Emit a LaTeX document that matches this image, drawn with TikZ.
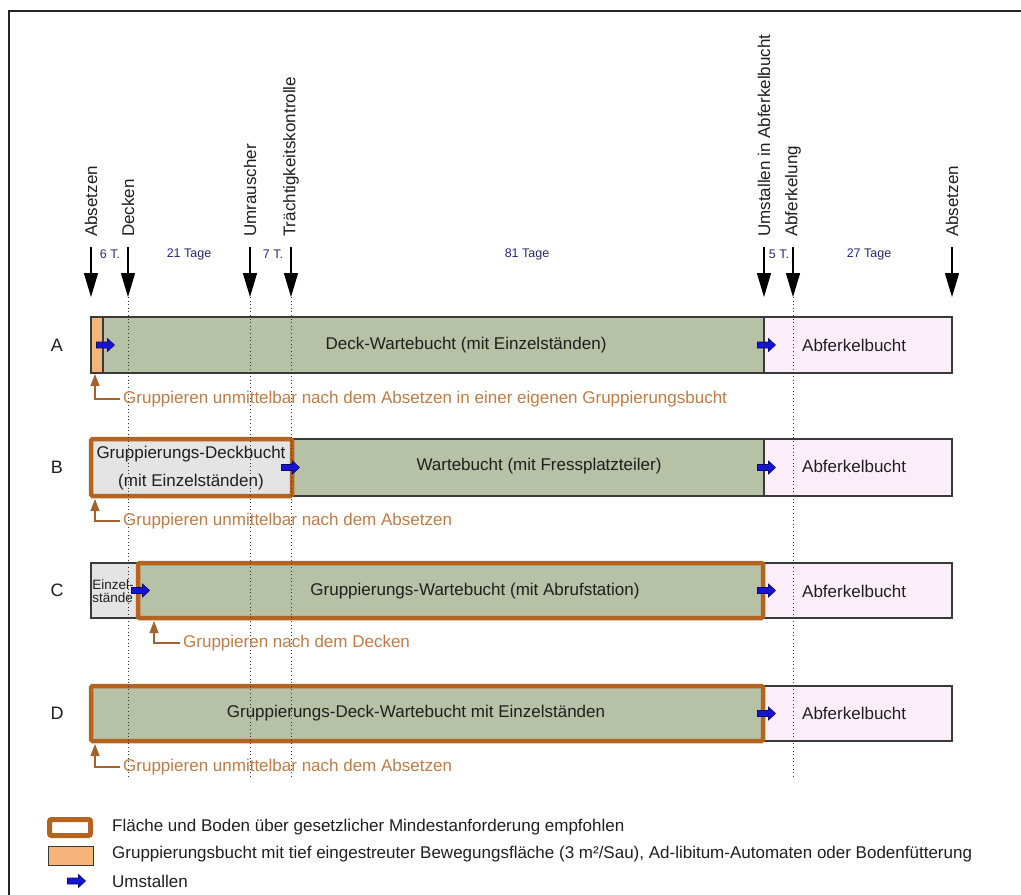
\documentclass[tikz,border=0pt]{standalone}
\usepackage{fontspec}
\setmainfont{Liberation Sans}
\usetikzlibrary{arrows.meta}

\definecolor{boxgreen}{HTML}{B6C1A6}
\definecolor{boxpink}{HTML}{FBEEF8}
\definecolor{boxgrey}{HTML}{E4E4E4}
\definecolor{strawfill}{HTML}{F6B47A}
\definecolor{frameorange}{HTML}{B4641E}
\definecolor{notebrown}{HTML}{A3622C}
\definecolor{notetext}{HTML}{BF7B45}
\definecolor{daynavy}{HTML}{27286E}
\definecolor{moveblue}{HTML}{1414D2}
\definecolor{edgegrey}{HTML}{3A3A3A}

\begin{document}
\begin{tikzpicture}[x=1pt,y=-1pt,
  txt/.style={font=\fontsize{17}{20}\selectfont, text=black!88, inner sep=0pt},
  rowletter/.style={font=\fontsize{18}{20}\selectfont, text=black!88, inner sep=0pt},
  event/.style={txt, rotate=90, anchor=west},
  days/.style={font=\fontsize{12.5}{14}\selectfont, text=daynavy, inner sep=0pt},
  evarrow/.style={line width=1.4pt, draw=black, -{Triangle[width=14pt,length=24pt]}},
  guide/.style={line width=0.9pt, draw=black!80, dash pattern=on 1pt off 2.6pt},
  pen/.style={draw=edgegrey, line width=1.1pt, inner sep=0pt, outer sep=0pt, anchor=north west},
  recommended/.style={draw=frameorange, line width=4.5pt, rounded corners=1.5pt},
  note/.style={font=\fontsize{17}{20}\selectfont, text=notetext, inner sep=0pt, anchor=west},
  notearrow/.style={draw=notebrown, line width=1.1pt, -{Triangle[width=9pt,length=12pt]}},
  abf/.style={txt, anchor=west},
  % block arrow marking a move into the next pen
  movearrow/.pic={
    \path[fill=moveblue, draw=moveblue!50!black, line width=0.6pt, line join=miter]
      (-9,-3) -- (2,-3) -- (2,-6.5) -- (9,0) -- (2,6.5) -- (2,3) -- (-9,3) -- cycle;
  }
]
\useasboundingbox (0,0) rectangle (1021,895);

% outer frame (left and top edges)
\coordinate (frBL) at (9,895);
\coordinate (frTL) at (9,11);
\coordinate (frTR) at (1021,11);
\draw[line width=2pt, black!85] (frBL) -- (frTL) -- (frTR);

% ---------- row A ----------
\node[pen, fill=strawfill, minimum width=12pt,  minimum height=56pt] (A1) at (91,317) {};
\node[pen, fill=boxgreen,  minimum width=661pt, minimum height=56pt] (A2) at (103,317) {};
\node[pen, fill=boxpink,   minimum width=188pt, minimum height=56pt] (A3) at (764,317) {};

% ---------- row B ----------
\node[pen, fill=boxgrey,  minimum width=201pt, minimum height=57pt] (B1) at (91,439) {};
\node[pen, fill=boxgreen, minimum width=472pt, minimum height=57pt] (B2) at (292,439) {};
\node[pen, fill=boxpink,  minimum width=188pt, minimum height=57pt] (B3) at (764,439) {};
\draw[recommended] (B1.north west) rectangle (B1.south east);

% ---------- row C ----------
\node[pen, fill=boxgrey,  minimum width=47pt,  minimum height=55pt] (C1) at (91,563) {};
\node[pen, fill=boxgreen, minimum width=625pt, minimum height=55pt] (C2) at (138,563) {};
\node[pen, fill=boxpink,  minimum width=189pt, minimum height=55pt] (C3) at (763,563) {};
\draw[recommended] (C2.north west) rectangle (C2.south east);

% ---------- row D ----------
\node[pen, fill=boxgreen, minimum width=672pt, minimum height=55pt] (D2) at (91,686) {};
\node[pen, fill=boxpink,  minimum width=189pt, minimum height=55pt] (D3) at (763,686) {};
\draw[recommended] (D2.north west) rectangle (D2.south east);

% ---------- time line ----------
\foreach \n/\x in {abs1/91, dec/128, umr/250, tra/291, ums/764, abf/793, abs2/952}{
  \coordinate (\n-top) at (\x,247);
  \coordinate (\n-tip) at (\x,297);
  \coordinate (\n-end) at (\x,778);
}
\node[event] (ev-abs1) at (91,237)  {Absetzen};
\node[event] (ev-dec)  at (128,237) {Decken};
\node[event] (ev-umr)  at (250,237) {Umrauscher};
\node[event] (ev-tra)  at (291,237) {Trächtigkeitskontrolle};
\node[event] (ev-ums)  at (764,237) {Umstallen in Abferkelbucht};
\node[event] (ev-abf)  at (793,237) {Abferkelung};
\node[event] (ev-abs2) at (952,237) {Absetzen};

\foreach \n in {abs1, dec, umr, tra, ums, abf, abs2}{
  \draw[evarrow] (\n-top) -- (\n-tip);
}
\foreach \n in {dec, umr, tra, abf}{
  \draw[guide] (\n-tip) -- (\n-end);
}

\node[days] (d1) at (110,254) {6 T.};
\node[days] (d2) at (189,254) {21 Tage};
\node[days] (d3) at (273,254) {7 T.};
\node[days] (d4) at (527,254) {81 Tage};
\node[days] (d5) at (779,254) {5 T.};
\node[days] (d6) at (869,254) {27 Tage};

% ---------- moves between pens ----------
\pic at ([xshift=2.5pt]A2.west) {movearrow};
\pic at ([xshift=2.5pt]A3.west) {movearrow};
\pic at ([xshift=-1.5pt]B2.west) {movearrow};
\pic at ([xshift=2.5pt]B3.west) {movearrow};
\pic at ([xshift=2.5pt]C2.west) {movearrow};
\pic at ([xshift=3.5pt]C3.west) {movearrow};
\pic at ([xshift=3.5pt]D3.west) {movearrow};

% ---------- row letters ----------
\node[rowletter] (lA) at (57,345) {A};
\node[rowletter] (lB) at (57,467) {B};
\node[rowletter] (lC) at (57,590) {C};
\node[rowletter] (lD) at (57,713) {D};

% ---------- box texts ----------
\node[txt] (tA2) at (466,345) {Deck-Wartebucht (mit Einzelständen)};
\node[txt, align=center, font=\fontsize{17}{28}\selectfont] (tB1) at (191,468) {Gruppierungs-Deckbucht\\(mit Einzelständen)};
\node[txt] (tB2) at (539,466) {Wartebucht (mit Fressplatzteiler)};
\node[txt, align=left, font=\fontsize{13.5}{13}\selectfont] (tC1) at (113,591) {Einzel-\\stände};
\node[txt] (tC2) at (475,591) {Gruppierungs-Wartebucht (mit Abrufstation)};
\node[txt] (tD2) at (416,713) {Gruppierungs-Deck-Wartebucht mit Einzelständen};
\node[abf] (tA3) at (802,345) {Abferkelbucht};
\node[abf] (tB3) at (802,466) {Abferkelbucht};
\node[abf] (tC3) at (802,591) {Abferkelbucht};
\node[abf] (tD3) at (802,713) {Abferkelbucht};

% ---------- grouping notes ----------
\coordinate (gA) at (95,374);
\coordinate (gB) at (95,499);
\coordinate (gC) at (154,621);
\coordinate (gD) at (95,744);
\node[note] (nA) at (123,399) {Gruppieren unmittelbar nach dem Absetzen in einer eigenen Gruppierungsbucht};
\node[note] (nB) at (123,521) {Gruppieren unmittelbar nach dem Absetzen};
\node[note] (nC) at (183,643) {Gruppieren nach dem Decken};
\node[note] (nD) at (123,767) {Gruppieren unmittelbar nach dem Absetzen};
\draw[notearrow] ([xshift=-3pt]nA.west) -| (gA);
\draw[notearrow] ([xshift=-3pt]nB.west) -| (gB);
\draw[notearrow] ([xshift=-3pt]nC.west) -| (gC);
\draw[notearrow] ([xshift=-3pt]nD.west) -| (gD);

% ---------- legend ----------
\node[draw=frameorange, line width=5pt, rounded corners=2pt, minimum width=41pt,
      minimum height=16pt, inner sep=0pt] (k1) at (70,827.5) {};
\node[draw=edgegrey, fill=strawfill, line width=1pt, minimum width=45pt,
      minimum height=19pt, inner sep=0pt] (k2) at (70.5,855.5) {};
\coordinate (k3) at (76.5,881);
\pic at (k3) {movearrow};
\node[txt, anchor=west] (kt1) at (112,827) {Fläche und Boden über gesetzlicher Mindestanforderung empfohlen};
\node[txt, anchor=west] (kt2) at (112,854) {Gruppierungsbucht mit tief eingestreuter Bewegungsfläche (3 m²/Sau), Ad-libitum-Automaten oder Bodenfütterung};
\node[txt, anchor=west] (kt3) at (112,881) {Umstallen};
\end{tikzpicture}
\end{document}
